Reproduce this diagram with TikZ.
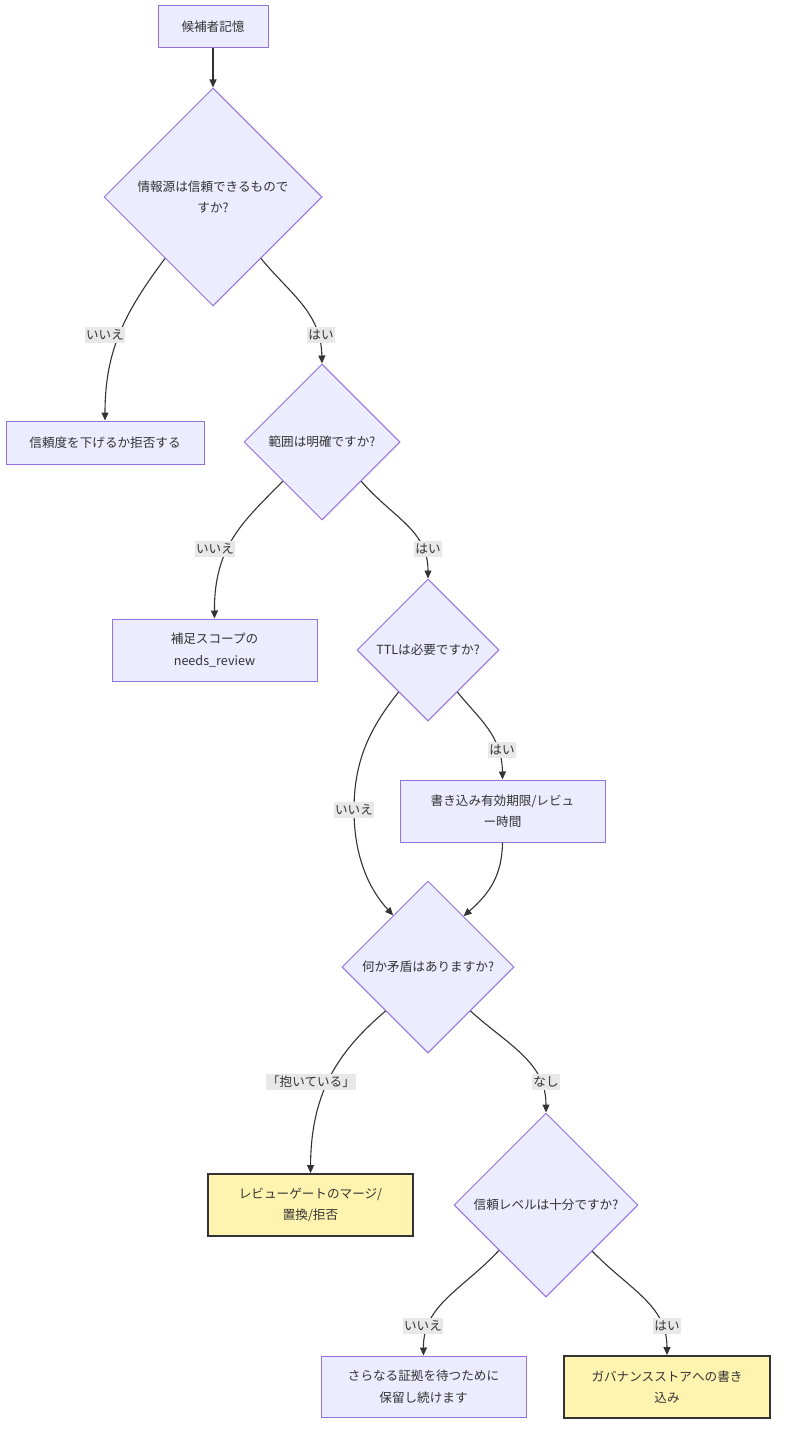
\documentclass[tikz,border=0pt]{standalone}
\usepackage{fontspec}
\setmainfont{Noto Sans CJK JP}
\usetikzlibrary{shapes.geometric,arrows.meta}
\definecolor{nodefill}{HTML}{ECECFF}
\definecolor{nodeline}{HTML}{9370DB}
\definecolor{edgecol}{HTML}{333333}
\definecolor{lblfill}{HTML}{E8E8E8}
\definecolor{yelfill}{HTML}{FFF3B0}
\begin{document}
\begin{tikzpicture}[x=1pt,y=-1pt,
  txt/.style={font=\fontsize{12.6}{21.5}\selectfont, text=edgecol, align=center},
  box/.style={txt, rectangle, draw=nodeline, fill=nodefill, line width=1pt, inner sep=0pt},
  yelbox/.style={txt, rectangle, draw=edgecol, fill=yelfill, line width=1.8pt, inner sep=0pt},
  dia/.style={txt, diamond, aspect=1, draw=nodeline, fill=nodefill, line width=1pt, inner sep=0pt},
  edge/.style={draw=edgecol, line width=1.1pt, -{Triangle[length=8pt,width=7pt]}},
  lbl/.style={fill=lblfill, inner xsep=1.5pt, inner ysep=2.5pt, text=edgecol, font=\fontsize{12.6}{14}\selectfont}
]
\useasboundingbox (0,0) rectangle (784,1439);

% nodes
\node[box, minimum width=110pt, minimum height=42pt] (cand) at (213,27) {候補者記憶};
\node[dia, minimum width=218pt, minimum height=218pt] (q1) at (213,197) {情報源は信頼できるもので\\すか?};
\node[box, minimum width=198pt, minimum height=43pt] (reduce) at (105,442.5) {信頼度を下げるか拒否する};
\node[dia, minimum width=156pt, minimum height=156pt] (q2) at (322,442) {範囲は明確ですか?};
\node[box, minimum width=205pt, minimum height=62pt] (needs) at (214.5,650) {補足スコープの\\needs\_review};
\node[dia, minimum width=142pt, minimum height=142pt] (q3) at (428,650) {TTLは必要ですか?};
\node[box, minimum width=205pt, minimum height=62pt] (ttlbox) at (502.5,811) {書き込み有効期限/レビュ\\ー時間};
\node[dia, minimum width=172pt, minimum height=172pt] (q4) at (428,967) {何か矛盾はありますか?};
\node[yelbox, minimum width=205pt, minimum height=62pt] (conflict) at (310.5,1205) {レビューゲートのマージ/\\置換/拒否};
\node[dia, minimum width=184pt, minimum height=184pt] (q5) at (546,1205) {信頼レベルは十分ですか?};
\node[box, minimum width=205pt, minimum height=61pt] (hold) at (423.5,1386.5) {さらなる証拠を待つために\\保留し続けます};
\node[yelbox, minimum width=206pt, minimum height=62pt] (gov) at (667,1387) {ガバナンスストアへの書き\\込み};

% edges
\draw[edge] (cand.south) -- (q1.north);
\draw[edge] (q1.232) .. controls (125,312) and (105,350) .. (reduce.north);
\draw[edge] (q1.308) .. controls (290,294) and (321,312) .. (q2.north);
\draw[edge] (q2.225) .. controls (245,520) and (214,545) .. (needs.north);
\draw[edge] (q2.315) .. controls (393,518) and (428,530) .. (q3.north);
\draw[edge] (q3.305) .. controls (478,718) and (502,735) .. (ttlbox.north);
\draw[edge] (q3.235) .. controls (370,728) and (354,760) .. (354,810)
  .. controls (354,855) and (368,888) .. (q4.124);
\draw[edge] (ttlbox.south) .. controls (502,875) and (490,893) .. (q4.55);
\draw[edge] (q4.226) .. controls (340,1050) and (311,1090) .. (conflict.north);
\draw[edge] (q4.314) .. controls (508,1045) and (546,1062) .. (q5.north);
\draw[edge] (q5.224) .. controls (462,1290) and (423,1305) .. (hold.north);
\draw[edge] (q5.315) .. controls (630,1290) and (667,1305) .. (gov.north);

% edge labels
\node[lbl] (l1) at (105,335) {いいえ};
\node[lbl] (l2) at (321,335) {はい};
\node[lbl] (l3) at (215,549) {いいえ};
\node[lbl] (l4) at (428,549) {はい};
\node[lbl] (l5) at (502,750) {はい};
\node[lbl] (l6) at (354,810) {いいえ};
\node[lbl] (l7) at (311,1082) {「抱いている」};
\node[lbl] (l8) at (546,1082) {なし};
\node[lbl] (l9) at (423,1326) {いいえ};
\node[lbl] (l10) at (667,1326) {はい};
\end{tikzpicture}
\end{document}
